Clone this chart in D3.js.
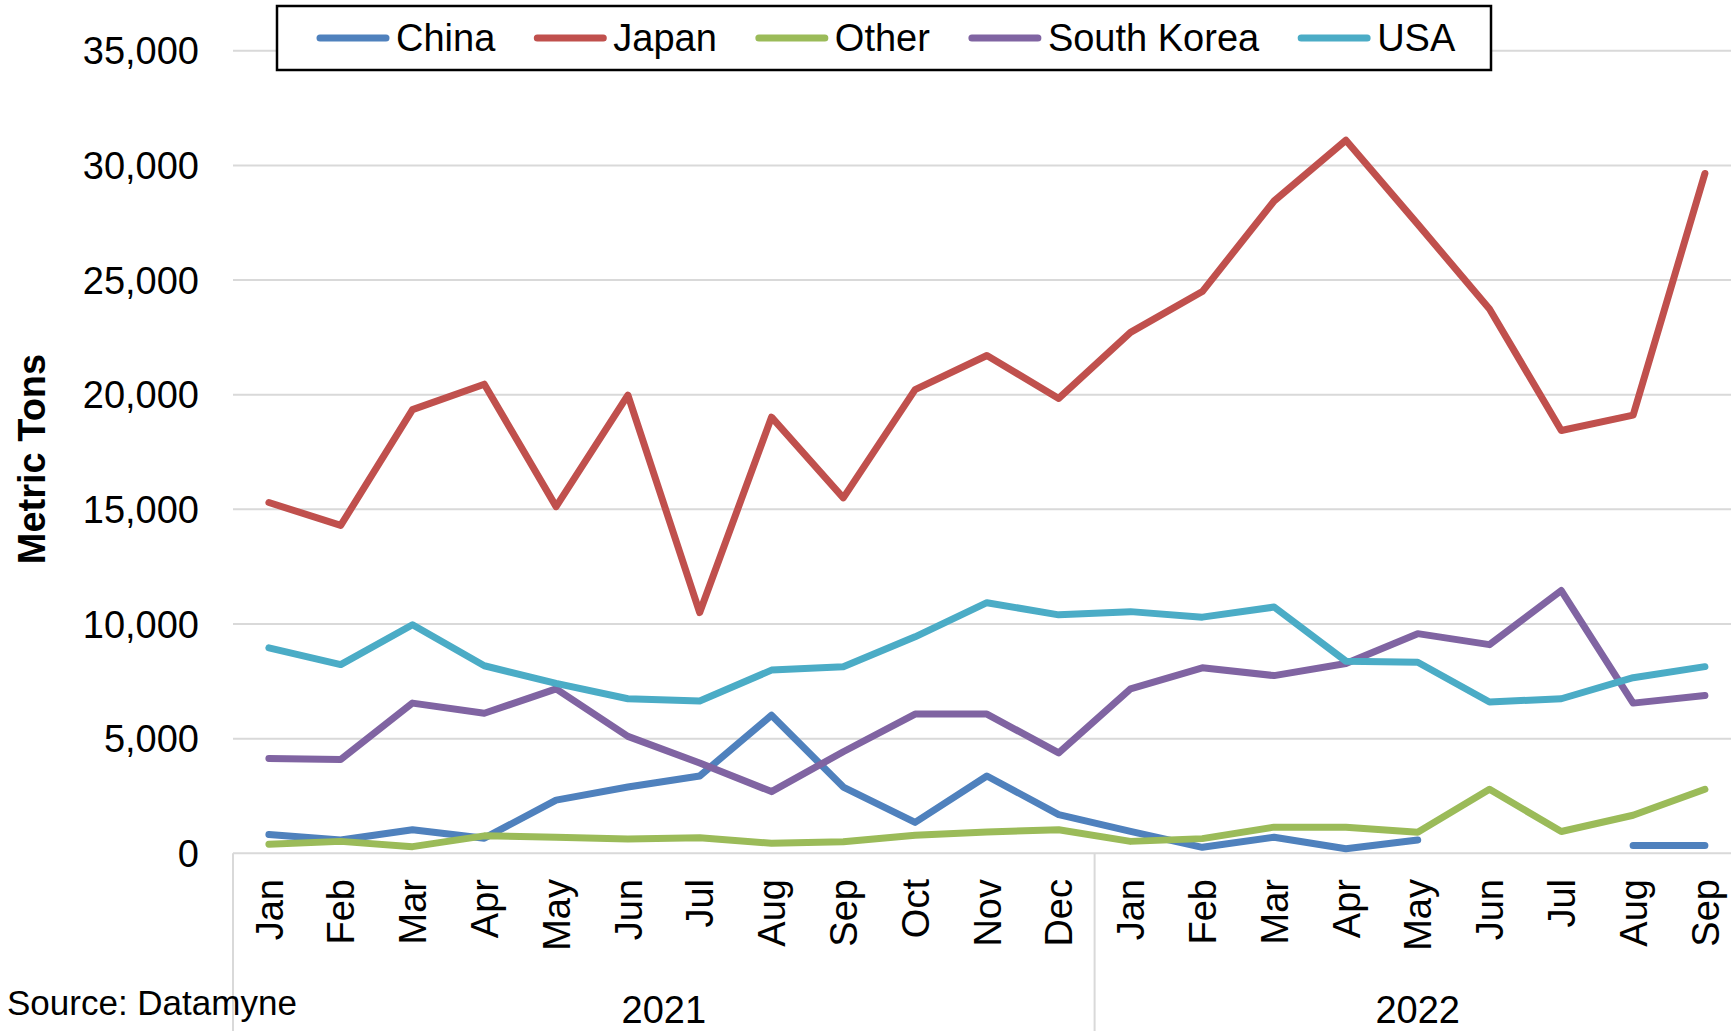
<!DOCTYPE html>
<html>
<head>
<meta charset="utf-8">
<script src="https://cdn.jsdelivr.net/npm/d3@7"></script>
<style>
  body { margin: 0; background: #fff; }
  text { font-family: "Liberation Sans", Arial, sans-serif; fill: #000; }
</style>
</head>
<body>
<div class="chart"></div>
<script>
var svgWidth = 1731;
var svgHeight = 1031;

// months (two years) and tick values
var months = ["Jan","Feb","Mar","Apr","May","Jun","Jul","Aug","Sep","Oct","Nov","Dec",
              "Jan","Feb","Mar","Apr","May","Jun","Jul","Aug","Sep"];
var years = [{ label: "2021", from: 0, to: 12 }, { label: "2022", from: 12, to: 21 }];
var yTicks = [0, 5000, 10000, 15000, 20000, 25000, 30000, 35000];

var seriesNames = ["China", "Japan", "Other", "South Korea", "USA"];
var seriesColors = ["#4F81BD", "#C0504D", "#9BBB59", "#8064A2", "#4BACC6"];

// metric tons
var china = [820, 580, 1030, 660, 2320, 2890, 3370, 6020, 2890, 1350, 3370, 1690,
             960, 260, 700, 200, 580, null, null, 340, 340];
var japan = [15300, 14300, 19350, 20460, 15120, 19980, 10500, 19020, 15500, 20220, 21710, 19840,
             22720, 24500, 28450, 31100, 27440, 23740, 18440, 19110, 29650];
var other = [400, 520, 290, 760, 700, 620, 680, 440, 500, 790, 930, 1030,
             520, 640, 1140, 1140, 920, 2790, 950, 1660, 2790];
var southKorea = [4140, 4090, 6550, 6110, 7170, 5100, 3940, 2690, 4430, 6070, 6070, 4380,
                  7170, 8090, 7750, 8280, 9580, 9100, 11460, 6550, 6880];
var usa = [8960, 8230, 9970, 8180, 7410, 6740, 6640, 7990, 8140, 9440, 10930, 10400,
           10540, 10300, 10740, 8380, 8330, 6600, 6740, 7660, 8140];

var seriesValues = [china, japan, other, southKorea, usa];

var plotLeft = 233;
var band = 71.8;
var plotTop = 50.8;
var plotBottom = 853.3;

var svg = d3.select(".chart")
  .append("svg")
  .attr("width", svgWidth)
  .attr("height", svgHeight);

var xScale = d3.scaleBand()
  .domain(d3.range(months.length))
  .range([plotLeft, plotLeft + band * months.length])
  .paddingInner(0).paddingOuter(0);

var yScale = d3.scaleLinear()
  .domain([0, 35000])
  .range([plotBottom, plotTop]);

var cx = function(i) { return xScale(i) + xScale.bandwidth() / 2; };

// horizontal gridlines
svg.append("g")
  .selectAll("line")
  .data(yTicks)
  .enter().append("line")
    .attr("x1", plotLeft)
    .attr("x2", svgWidth)
    .attr("y1", function(d) { return yScale(d); })
    .attr("y2", function(d) { return yScale(d); })
    .attr("stroke", "#D9D9D9")
    .attr("stroke-width", 2);

// y labels
svg.append("g")
  .selectAll("text")
  .data(yTicks)
  .enter().append("text")
    .attr("x", 199)
    .attr("y", function(d) { return yScale(d); })
    .attr("dy", "0.36em")
    .attr("text-anchor", "end")
    .style("font-size", "38px")
    .text(function(d) { return d3.format(",")(d); });

// year separators
var seps = [0].concat(years.map(function(y) { return y.to; })).filter(function(i) { return i < months.length; });
svg.append("g")
  .selectAll("line")
  .data(seps)
  .enter().append("line")
    .attr("x1", function(i) { return xScale(i); })
    .attr("x2", function(i) { return xScale(i); })
    .attr("y1", plotBottom)
    .attr("y2", svgHeight)
    .attr("stroke", "#D9D9D9")
    .attr("stroke-width", 2);

// month labels
svg.append("g")
  .selectAll("text")
  .data(months)
  .enter().append("text")
    .attr("transform", function(d, i) { return "translate(" + cx(i) + ",879) rotate(-90)"; })
    .attr("dy", "0.36em")
    .attr("text-anchor", "end")
    .style("font-size", "38px")
    .text(function(d) { return d; });

// year labels
svg.append("g")
  .selectAll("text")
  .data(years)
  .enter().append("text")
    .attr("x", function(d) { return (xScale(d.from) + xScale(d.to - 1) + xScale.bandwidth()) / 2; })
    .attr("y", 1023)
    .attr("text-anchor", "middle")
    .style("font-size", "38px")
    .text(function(d) { return d.label; });

// series lines
var line = d3.line()
  .defined(function(d) { return d != null; })
  .x(function(d, i) { return cx(i); })
  .y(function(d) { return yScale(d); });

svg.append("g")
  .selectAll("path")
  .data(seriesValues)
  .enter().append("path")
    .attr("d", line)
    .attr("fill", "none")
    .attr("stroke", function(d, i) { return seriesColors[i]; })
    .attr("stroke-width", 7)
    .attr("stroke-linejoin", "round")
    .attr("stroke-linecap", "round");

// axis title
svg.append("text")
  .attr("transform", "translate(31,459) rotate(-90)")
  .attr("dy", "0.36em")
  .attr("text-anchor", "middle")
  .style("font-size", "38px")
  .style("font-weight", "bold")
  .text("Metric Tons");

// source note
svg.append("text")
  .attr("x", 7)
  .attr("y", 1015)
  .style("font-size", "35px")
  .text("Source: Datamyne");

// legend
var legend = svg.append("g");
legend.append("rect")
  .attr("x", 277)
  .attr("y", 6)
  .attr("width", 1491 - 277)
  .attr("height", 64)
  .attr("fill", "#fff")
  .attr("stroke", "#000")
  .attr("stroke-width", 2.5);

var lx = 320;
seriesNames.forEach(function(name, i) {
  legend.append("line")
    .attr("x1", lx).attr("x2", lx + 66)
    .attr("y1", 38).attr("y2", 38)
    .attr("stroke", seriesColors[i])
    .attr("stroke-width", 7)
    .attr("stroke-linecap", "round");
  var t = legend.append("text")
    .attr("x", lx + 76)
    .attr("y", 51)
    .style("font-size", "38px")
    .text(name);
  lx = lx + 76 + t.node().getComputedTextLength() + 42;
});
</script>
</body>
</html>
